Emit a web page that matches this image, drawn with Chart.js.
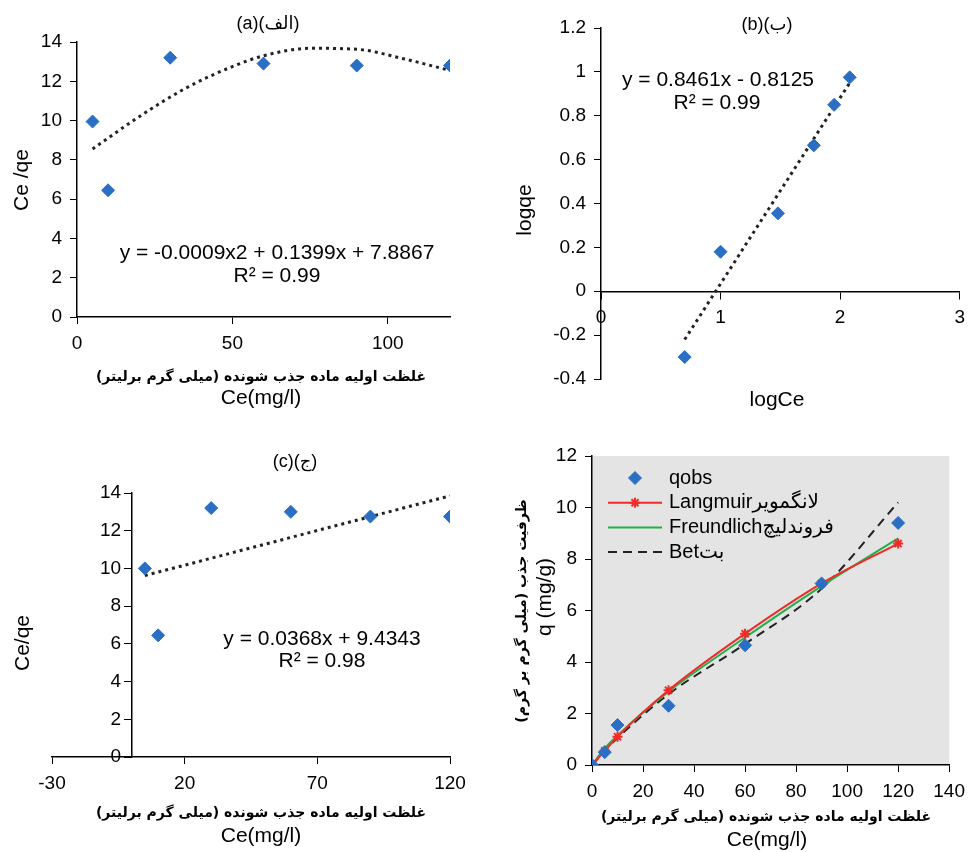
<!DOCTYPE html>
<html>
<head>
<meta charset="utf-8">
<script src="https://cdn.jsdelivr.net/npm/chart.js@4.4.1/dist/chart.umd.min.js"></script>
<style>
body { margin: 0; background: #fff; }
#wrap { position: relative; width: 973px; height: 852px; }
#wrap canvas { position: absolute; left: 0; top: 0; }
</style>
</head>
<body>
<div id="wrap">
  <canvas id="chartA" width="973" height="852"></canvas>
  <canvas id="chartB" width="973" height="852"></canvas>
  <canvas id="chartC" width="973" height="852"></canvas>
  <canvas id="chartD" width="973" height="852"></canvas>
</div>
<script>
// (a) Ce/qe against Ce with 2nd order fit
const ceA = [5, 10, 30, 60, 90, 120];
const ceqeA = [9.95, 6.45, 13.2, 12.9, 12.8, 12.8];
const fitAx = [5, 20, 35, 50, 60, 75, 90, 105, 120];
const fitAy = [8.55, 10.2, 11.65, 12.75, 13.3, 13.68, 13.63, 13.15, 12.55];

// (b) logqe against logCe
const logCe = [0.7, 1.0, 1.48, 1.78, 1.95, 2.08];
const logqe = [-0.3, 0.18, 0.355, 0.665, 0.85, 0.975];
const fitBx = [0.7, 2.08];
const fitBy = [-0.22, 0.95];

// (c) Ce/qe against Ce with linear fit
const ceC = [5, 10, 30, 60, 90, 120];
const ceqeC = [10.0, 6.45, 13.2, 13.0, 12.75, 12.75];
const fitCx = [5, 120];
const fitCy = [9.62, 13.85];

// (d) observed q and model curves
const ceD = [0, 5, 10, 30, 60, 90, 120];
const qobs = [0, 0.5, 1.55, 2.3, 4.65, 7.05, 9.4];
const qLangmuir = [0, 0.55, 1.1, 2.9, 5.1, 7.05, 8.6];
const qFreundlich = [0, 0.65, 1.15, 2.85, 4.95, 6.95, 8.8];
const qBet = [0, 0.55, 1.05, 2.75, 4.7, 6.85, 10.2];

const faX = 'غلظت اولیه ماده جذب شونده (میلی گرم برلیتر)';
const faY = 'ظرفیت جذب (میلی گرم بر گرم)';

const FONT = "'Liberation Sans', Arial, 'DejaVu Sans', sans-serif";
const FA_FONT = "'DejaVu Sans', sans-serif";
const BLUE = '#2a6fc4';

Chart.defaults.font.family = FONT;
Chart.defaults.color = '#000';
Chart.defaults.animation = false;

function pts(xs, ys) {
    return xs.map((x, i) => ({ x: x, y: ys[i] }));
}

// free text: titles, axis names, equations
const textPlugin = {
    id: 'panelText',
    afterDraw(chart, args, opts) {
        const ctx = chart.ctx;
        (opts.items || []).forEach(t => {
            ctx.save();
            ctx.font = (t.bold ? 'bold ' : '') + t.size + 'px ' + (t.family || FONT);
            ctx.fillStyle = '#000';
            ctx.textAlign = 'center';
            ctx.textBaseline = 'middle';
            ctx.translate(t.x, t.y);
            if (t.rot) ctx.rotate(-Math.PI / 2);
            ctx.fillText(t.text, 0, 0);
            ctx.restore();
        });
    }
};

const bgPlugin = {
    id: 'areaBg',
    beforeDraw(chart, args, opts) {
        if (!opts.color) return;
        const a = chart.chartArea;
        chart.ctx.save();
        chart.ctx.fillStyle = opts.color;
        chart.ctx.fillRect(a.left, a.top, a.right - a.left, a.bottom - a.top);
        chart.ctx.restore();
    }
};

// legend drawn inside the plot area
const innerLegend = {
    id: 'innerLegend',
    afterDatasetsDraw(chart, args, opts) {
        if (!opts.display) return;
        const ctx = chart.ctx;
        const a = chart.chartArea;
        chart.data.datasets.forEach((ds, i) => {
            const y = a.top + opts.top + i * opts.rowH;
            const x0 = a.left + opts.left;
            const x1 = x0 + opts.lineW;
            ctx.save();
            if (ds.showLine) {
                ctx.strokeStyle = ds.borderColor;
                ctx.lineWidth = ds.borderWidth;
                ctx.setLineDash(ds.borderDash || []);
                ctx.beginPath();
                ctx.moveTo(x0, y);
                ctx.lineTo(x1, y);
                ctx.stroke();
                ctx.setLineDash([]);
            }
            if (ds.pointRadius > 0) {
                ctx.fillStyle = ds.pointBackgroundColor;
                ctx.strokeStyle = ds.pointBorderColor;
                ctx.lineWidth = ds.pointBorderWidth;
                Chart.helpers.drawPoint(ctx, {
                    pointStyle: ds.pointStyle, radius: ds.pointRadius,
                    rotation: 0, borderWidth: ds.pointBorderWidth
                }, (x0 + x1) / 2, y);
            }
            ctx.fillStyle = '#000';
            ctx.font = opts.size + 'px ' + FONT;
            ctx.textAlign = 'left';
            ctx.textBaseline = 'middle';
            ctx.fillText(ds.label, x1 + 7, y);
            ctx.restore();
        });
    }
};

function axis(min, max, step, extra) {
    return Object.assign({
        type: 'linear',
        min: min,
        max: max,
        ticks: { stepSize: step, font: { size: 19 }, color: '#000', padding: 8 },
        grid: { drawOnChartArea: false, drawTicks: true, tickLength: 7, color: '#000' },
        border: { color: '#000', width: 1.5 }
    }, extra);
}

function fixWidth(w) {
    return scale => { scale.width = w; };
}
function fixHeight(h) {
    return scale => { scale.height = h; };
}

function dots(label, data, curved) {
    return {
        label: label,
        data: data,
        showLine: true,
        borderColor: '#222',
        borderWidth: 3,
        borderDash: [3, 4],
        pointRadius: 0,
        cubicInterpolationMode: curved ? 'monotone' : 'default',
        tension: 0
    };
}

function diamonds(label, data) {
    return {
        label: label,
        data: data,
        showLine: false,
        pointStyle: 'rectRot',
        pointRadius: 6.5,
        pointHoverRadius: 6.5,
        pointBackgroundColor: BLUE,
        pointBorderColor: BLUE,
        pointBorderWidth: 1,
        backgroundColor: BLUE,
        borderColor: BLUE
    };
}

// ---------- (a) ----------
new Chart(document.getElementById('chartA'), {
    type: 'scatter',
    data: {
        datasets: [
            diamonds('Ce/qe', pts(ceA, ceqeA)),
            dots('fit', pts(fitAx, fitAy), true)
        ]
    },
    options: {
        responsive: false,
        layout: { padding: { left: 17, top: 42, right: 523, bottom: 495 } },
        plugins: {
            legend: { display: false },
            tooltip: { enabled: false },
            panelText: {
                items: [
                    { text: '(a)(الف)', x: 268, y: 24, size: 18 },
                    { text: 'Ce /qe', x: 22, y: 180, size: 21, rot: true },
                    { text: faX, x: 261, y: 377, size: 14, bold: true, family: FA_FONT },
                    { text: 'Ce(mg/l)', x: 261, y: 398, size: 21 },
                    { text: 'y = -0.0009x2 + 0.1399x + 7.8867', x: 277, y: 253, size: 21 },
                    { text: 'R² = 0.99', x: 277, y: 276, size: 21 }
                ]
            }
        },
        scales: {
            x: axis(0, 120, 50, {
                position: 'bottom',
                afterFit: fixHeight(40),
                afterBuildTicks: scale => {
                    scale.ticks = scale.ticks.filter(t => t.value % 50 === 0);
                }
            }),
            y: axis(0, 14, 2, { position: 'left', afterFit: fixWidth(60) })
        }
    },
    plugins: [textPlugin]
});

// ---------- (b) ----------
new Chart(document.getElementById('chartB'), {
    type: 'scatter',
    data: {
        datasets: [
            diamonds('logqe', pts(logCe, logqe)),
            dots('fit', pts(fitBx, fitBy), false)
        ]
    },
    options: {
        responsive: false,
        layout: { padding: { left: 541, top: 28, right: 8, bottom: 473 } },
        plugins: {
            legend: { display: false },
            tooltip: { enabled: false },
            panelText: {
                items: [
                    { text: '(b)(ب)', x: 767, y: 25, size: 18 },
                    { text: 'logqe', x: 525, y: 210, size: 21, rot: true },
                    { text: 'logCe', x: 777, y: 400, size: 21 },
                    { text: 'y = 0.8461x - 0.8125', x: 718, y: 80, size: 21 },
                    { text: 'R² = 0.99', x: 717, y: 103, size: 21 }
                ]
            }
        },
        scales: {
            x: axis(0, 3, 1, { position: { y: 0 } }),
            y: axis(-0.4, 1.2, 0.2, {
                position: 'left',
                afterFit: fixWidth(60),
                ticks: {
                    stepSize: 0.2, font: { size: 19 }, color: '#000', padding: 8,
                    callback: v => String(Math.round(v * 10) / 10)
                }
            })
        }
    },
    plugins: [textPlugin]
});

// ---------- (c) ----------
// y axis sits at x = 0; labels get a small gap from the axis line
new Chart(document.getElementById('chartC'), {
    type: 'scatter',
    data: {
        datasets: [
            diamonds('Ce/qe', pts(ceC, ceqeC)),
            dots('fit', pts(fitCx, fitCy), false)
        ]
    },
    options: {
        responsive: false,
        layout: { padding: { left: 52, top: 493, right: 523, bottom: 55 } },
        plugins: {
            legend: { display: false },
            tooltip: { enabled: false },
            panelText: {
                items: [
                    { text: '(c)(ج)', x: 295, y: 462, size: 18 },
                    { text: 'Ce/qe', x: 23, y: 643, size: 21, rot: true },
                    { text: faX, x: 261, y: 813, size: 14, bold: true, family: FA_FONT },
                    { text: 'Ce(mg/l)', x: 261, y: 836, size: 21 },
                    { text: 'y = 0.0368x + 9.4343', x: 322, y: 639, size: 21 },
                    { text: 'R² = 0.98', x: 322, y: 661, size: 21 }
                ]
            }
        },
        scales: {
            x: axis(-30, 120, 50, { position: 'bottom', afterFit: fixHeight(40) }),
            y: axis(0, 14, 2, {
                position: { x: 0 },
                ticks: {
                    stepSize: 2, font: { size: 19 }, color: '#000',
                    callback: v => v + '  '
                }
            })
        }
    },
    plugins: [textPlugin]
});

// ---------- (d) ----------
new Chart(document.getElementById('chartD'), {
    type: 'scatter',
    data: {
        datasets: [
            diamonds('qobs', pts(ceD, qobs)),
            {
                label: 'Langmuirلانگمویر',
                data: pts(ceD, qLangmuir),
                showLine: true,
                borderColor: '#f22a2a',
                borderWidth: 2,
                cubicInterpolationMode: 'monotone',
                pointStyle: 'star',
                pointRadius: 5,
                pointBackgroundColor: '#f22a2a',
                pointBorderColor: '#f22a2a',
                pointBorderWidth: 2
            },
            {
                label: 'Freundlichفروندلیچ',
                data: pts(ceD, qFreundlich),
                showLine: true,
                borderColor: '#23b04c',
                borderWidth: 2,
                cubicInterpolationMode: 'monotone',
                pointRadius: 0
            },
            {
                label: 'Betبت',
                data: pts(ceD, qBet),
                showLine: true,
                borderColor: '#222',
                borderWidth: 2,
                borderDash: [9, 6],
                cubicInterpolationMode: 'monotone',
                pointRadius: 0
            }
        ]
    },
    options: {
        responsive: false,
        layout: { padding: { left: 532, top: 456, right: 21, bottom: 47 } },
        plugins: {
            legend: { display: false },
            tooltip: { enabled: false },
            areaBg: { color: '#e4e4e4' },
            innerLegend: { display: true, left: 16, top: 22, rowH: 24.7, lineW: 54, size: 20 },
            panelText: {
                items: [
                    { text: faY, x: 522, y: 611, size: 14, bold: true, family: FA_FONT, rot: true },
                    { text: 'q (mg/g)', x: 545, y: 597, size: 21, rot: true },
                    { text: faX, x: 766, y: 817, size: 14, bold: true, family: FA_FONT },
                    { text: 'Ce(mg/l)', x: 767, y: 840, size: 21 }
                ]
            }
        },
        scales: {
            x: axis(0, 140, 20, { position: 'bottom', afterFit: fixHeight(40) }),
            y: axis(0, 12, 2, { position: 'left', afterFit: fixWidth(60) })
        }
    },
    plugins: [bgPlugin, innerLegend, textPlugin]
});
</script>
</body>
</html>
